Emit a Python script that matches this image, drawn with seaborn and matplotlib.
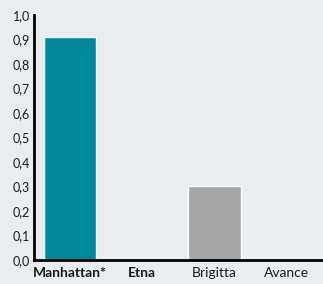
import numpy as np
import pandas as pd
import seaborn as sns
import matplotlib.pyplot as plt
from matplotlib.ticker import FixedLocator, FuncFormatter

categories = ["Manhattan*", "Etna", "Brigitta", "Avance"]
values = [0.91, 0.0, 0.30, 0.0]
bar_colors = ["#00899a", "#00899a", "#a5a5a5", "#a5a5a5"]
bold_labels = [True, True, False, False]
yticks = [0.0, 0.1, 0.2, 0.3, 0.4, 0.5, 0.6, 0.7, 0.8, 0.9, 1.0]

df = pd.DataFrame({"variety": categories, "value": values})

sns.set_style("white")
plt.rcParams["font.family"] = ["Lato", "DejaVu Sans"]

fig = plt.figure(figsize=(3.23, 2.84), dpi=100)
fig.patch.set_facecolor("#eaedf0")
ax = fig.add_axes([0.105, 0.085, 0.895, 0.862])
ax.set_facecolor("#eaedf0")

sns.barplot(data=df, x="variety", y="value", hue="variety", palette=bar_colors,
            legend=False, width=0.73, saturation=1, ax=ax)

ax.set_ylim(0, 1.0)
ax.set_xlim(-0.5, 3.5)
ax.set_yticks(yticks)
ax.yaxis.set_major_formatter(FuncFormatter(lambda v, p: f"{v:.1f}".replace(".", ",")))
ax.tick_params(axis="y", length=0, labelsize=9, pad=3, labelcolor="#1a1a1a")
ax.tick_params(axis="x", which="major", length=0, labelsize=10, pad=5, labelcolor="#1a1a1a")
ax.xaxis.set_minor_locator(FixedLocator([0.5, 1.5, 2.5]))
ax.tick_params(axis="x", which="minor", direction="in", length=5, width=2, color="black")
for lbl, b in zip(ax.get_xticklabels(), bold_labels):
    lbl.set_fontweight("bold" if b else "normal")

ax.set_xlabel("")
ax.set_ylabel("")
for s in ["top", "right"]:
    ax.spines[s].set_visible(False)
for s in ["left", "bottom"]:
    ax.spines[s].set_linewidth(2)
    ax.spines[s].set_color("black")

fig.savefig("out.png", dpi=100, facecolor=fig.get_facecolor())
